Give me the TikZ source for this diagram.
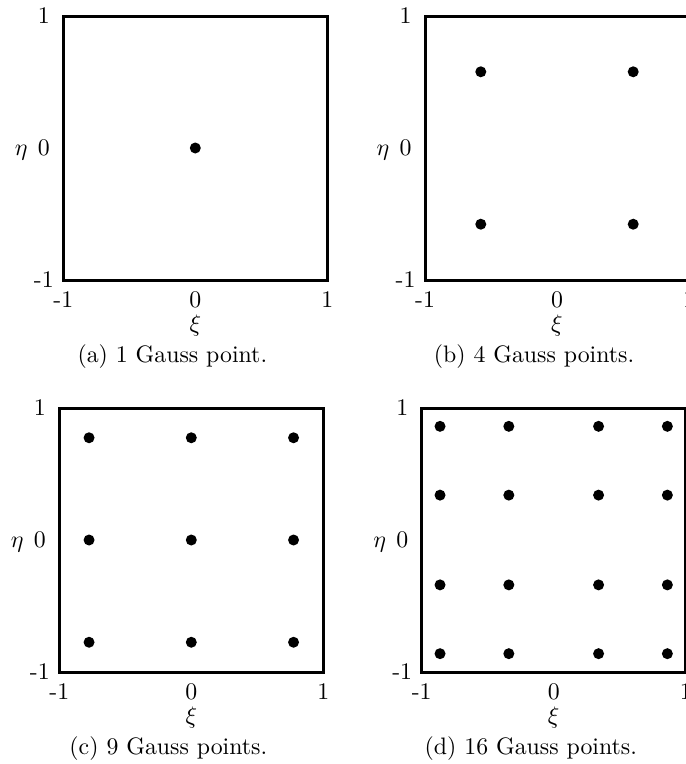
\documentclass[tikz,border=0pt]{standalone}
\newcommand\gaussPanel[6]{%
  % #1 name, #2 cx, #3 cy, #4 point list, #5 caption, #6 caption x
  \draw[frame] ({#2-132},{#3-132}) rectangle ({#2+132},{#3+132});
  \foreach \u in {#4}{\foreach \v in {#4}{%
    \fill[gp] ({#2+132*\u},{#3-132*\v}) circle[radius=2.31pt];}}
  \node[lbl] (#1-y1) at ({#2-151.5},{#3-132}) {1};
  \node[lbl] (#1-y0) at ({#2-151.5},{#3}) {0};
  \node[lbl] (#1-ym) at ({#2-151.5},{#3+132}) {-1};
  \node[lbl,anchor=base] (#1-eta) at ({#2-174},{#3+7.5}) {$\eta$};
  \node[lbl] (#1-xm) at ({#2-132},{#3+152}) {-1};
  \node[lbl] (#1-x0) at ({#2},{#3+152}) {0};
  \node[lbl] (#1-x1) at ({#2+132},{#3+152}) {1};
  \node[lbl] (#1-xi) at ({#2},{#3+178}) {$\xi$};
  \node[lbl,anchor=base] (#1-cap) at ({#6},{#3+214}) {#5};
}
\begin{document}
\begin{tikzpicture}[x=0.42pt,y=-0.42pt,
  frame/.style={line width=1.26pt, line join=miter},
  gp/.style={fill=black},
  lbl/.style={inner sep=0pt, anchor=center}]
\useasboundingbox (0,0) rectangle (686,764);
\clip (0,0) rectangle (686,764);
\gaussPanel{a}{195.3}{148}{0}{(a) 1 Gauss point.}{172.3}
\gaussPanel{b}{557}{148}{-0.57735,0.57735}{(b) 4 Gauss points.}{534}
\gaussPanel{c}{191.3}{540}{-0.774597,0,0.774597}{(c) 9 Gauss points.}{168.3}
\gaussPanel{d}{553.7}{540}{-0.861136,-0.339981,0.339981,0.861136}{(d) 16 Gauss points.}{530.8}
\end{tikzpicture}
\end{document}
